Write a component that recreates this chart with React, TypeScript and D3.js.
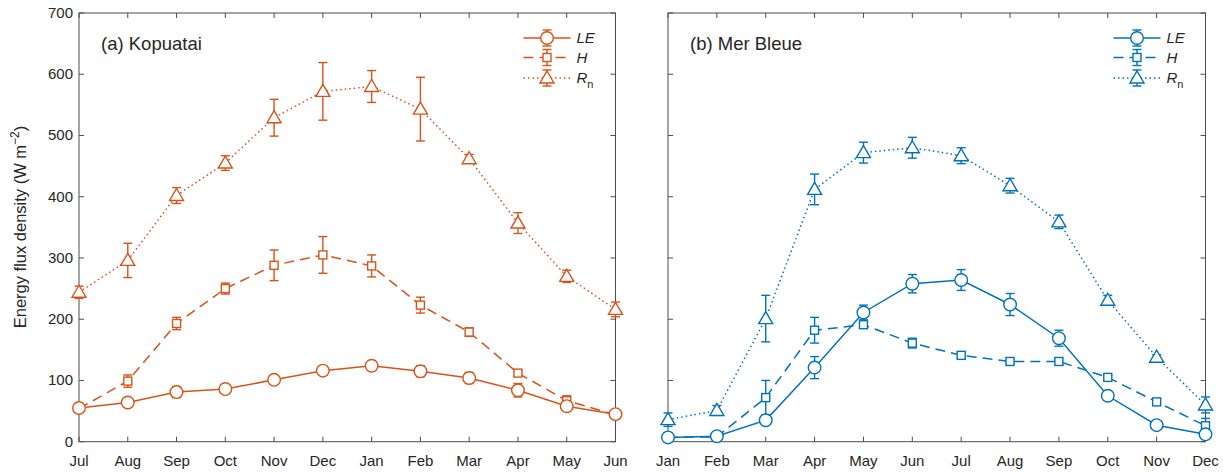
import * as d3 from 'd3';
import React from 'react';

const W = 1223;
const H = 472;

// Kopuatai (Jul..Jun)
const monthsA = ['Jul', 'Aug', 'Sep', 'Oct', 'Nov', 'Dec', 'Jan', 'Feb', 'Mar', 'Apr', 'May', 'Jun'];
const leA = [55, 64, 81, 86, 101, 116, 124, 115, 104, 84, 58, 45];
const leAErr = [5, 5, 9, 6, 6, 7, 5, 9, 9, 11, 7, 5];
const hA = [54, 99, 193, 250, 288, 305, 287, 223, 179, 112, 67, 44];
const hAErr = [5, 10, 10, 9, 25, 30, 18, 13, 7, 5, 8, 5];
const rnA = [244, 296, 402, 455, 529, 572, 580, 543, 462, 357, 270, 216];
const rnAErr = [10, 28, 13, 12, 30, 47, 26, 52, 7, 17, 10, 12];

// Mer Bleue (Jan..Dec)
const monthsB = ['Jan', 'Feb', 'Mar', 'Apr', 'May', 'Jun', 'Jul', 'Aug', 'Sep', 'Oct', 'Nov', 'Dec'];
const leB = [7, 9, 35, 121, 211, 258, 264, 224, 169, 75, 27, 12];
const leBErr = [3, 3, 5, 18, 12, 15, 17, 18, 13, 4, 3, 3];
const hB = [7, 8, 72, 182, 191, 161, 141, 131, 131, 105, 65, 26];
const hBErr = [3, 3, 28, 21, 5, 8, 5, 4, 5, 4, 3, 12];
const rnB = [36, 51, 201, 412, 472, 480, 467, 418, 359, 231, 138, 60];
const rnBErr = [11, 8, 38, 25, 17, 17, 13, 12, 11, 8, 4, 13];

const yTicks = [0, 100, 200, 300, 400, 500, 600, 700];

const ORANGE = '#D95319';
const BLUE = '#0072BD';
const AXIS = '#4d4d4d';
const TEXT = '#262626';
const FONT = '"Liberation Sans", Arial, Helvetica, sans-serif';

const y = d3.scaleLinear().domain([0, 700]).range([441.7, 13]);

type Kind = 'circle' | 'square' | 'triangle';

function Marker({ kind, cx, cy, color }: { kind: Kind; cx: number; cy: number; color: string }) {
  if (kind === 'circle') return <circle cx={cx} cy={cy} r={6.3} fill="white" stroke={color} strokeWidth={1.4} />;
  if (kind === 'square') return <rect x={cx - 4} y={cy - 4} width={8} height={8} fill="white" stroke={color} strokeWidth={1.4} />;
  const p = d3.path();
  p.moveTo(cx, cy - 7);
  p.lineTo(cx + 7, cy + 5);
  p.lineTo(cx - 7, cy + 5);
  p.closePath();
  return <path d={p.toString()} fill="white" stroke={color} strokeWidth={1.4} />;
}

function Series({ vals, errs, x, kind, color, dash }: { vals: number[]; errs: number[]; x: d3.ScaleLinear<number, number>; kind: Kind; color: string; dash?: string }) {
  const line = d3.line<number>().x((_, i) => x(i)).y((d) => y(d));
  return (
    <g>
      <path d={line(vals) || ''} fill="none" stroke={color} strokeWidth={1.5} strokeDasharray={dash} />
      {vals.map((v, i) => {
        const cx = x(i);
        const t = y(v + errs[i]);
        const b = y(v - errs[i]);
        return (
          <g key={i} stroke={color} strokeWidth={1.4}>
            <line x1={cx} x2={cx} y1={t} y2={b} />
            <line x1={cx - 4.5} x2={cx + 4.5} y1={t} y2={t} />
            <line x1={cx - 4.5} x2={cx + 4.5} y1={b} y2={b} />
          </g>
        );
      })}
      {vals.map((v, i) => (
        <Marker key={'m' + i} kind={kind} cx={x(i)} cy={y(v)} color={color} />
      ))}
    </g>
  );
}

function Legend({ x0, color }: { x0: number; color: string }) {
  const rows: { kind: Kind; dash?: string; label: React.ReactNode; cy: number }[] = [
    { kind: 'circle', label: <tspan fontStyle="italic">LE</tspan>, cy: 38 },
    { kind: 'square', dash: '10,6', label: <tspan fontStyle="italic">H</tspan>, cy: 57.5 },
    { kind: 'triangle', dash: '1.5,3', label: <><tspan fontStyle="italic">R</tspan><tspan fontSize={11} dy={5}>n</tspan></>, cy: 78 },
  ];
  return (
    <g>
      {rows.map((r, i) => (
        <g key={i}>
          <line x1={x0} x2={x0 + 47} y1={r.cy} y2={r.cy} stroke={color} strokeWidth={1.5} strokeDasharray={r.dash} />
          <g stroke={color} strokeWidth={1.4}>
            <line x1={x0 + 23.5} x2={x0 + 23.5} y1={r.cy - 8} y2={r.cy + 8} />
            <line x1={x0 + 19} x2={x0 + 28} y1={r.cy - 8} y2={r.cy - 8} />
            <line x1={x0 + 19} x2={x0 + 28} y1={r.cy + 8} y2={r.cy + 8} />
          </g>
          <Marker kind={r.kind} cx={x0 + 23.5} cy={r.cy} color={color} />
          <text x={x0 + 53} y={r.cy + 5} fontSize={15} fill={TEXT} fontFamily={FONT}>{r.label}</text>
        </g>
      ))}
    </g>
  );
}

function Panel({ x0, x1, months, title, color, le, leE, hv, hE, rn, rnE, showY }: any) {
  const x = d3.scaleLinear().domain([0, 11]).range([x0, x1]);
  const top = y(700);
  const bot = y(0);
  return (
    <g fontFamily={FONT}>
      <rect x={x0} y={top} width={x1 - x0} height={bot - top} fill="none" stroke={AXIS} strokeWidth={1} />
      {months.map((m: string, i: number) => (
        <g key={m}>
          <line x1={x(i)} x2={x(i)} y1={bot} y2={bot - 5} stroke={AXIS} />
          <line x1={x(i)} x2={x(i)} y1={top} y2={top + 5} stroke={AXIS} />
          <text x={x(i)} y={466} textAnchor="middle" fontSize={15} fill={TEXT}>{m}</text>
        </g>
      ))}
      {yTicks.map((t) => (
        <g key={t}>
          <line x1={x0} x2={x0 + 5} y1={y(t)} y2={y(t)} stroke={AXIS} />
          <line x1={x1} x2={x1 - 5} y1={y(t)} y2={y(t)} stroke={AXIS} />
          {showY && (
            <text x={x0 - 6} y={y(t) + 5} textAnchor="end" fontSize={15} fill={TEXT}>{t}</text>
          )}
        </g>
      ))}
      <text x={x0 + 22} y={50} fontSize={18.5} fill={TEXT}>{title}</text>
      <Series vals={rn} errs={rnE} x={x} kind="triangle" color={color} dash="1.5,3" />
      <Series vals={hv} errs={hE} x={x} kind="square" color={color} dash="10,6" />
      <Series vals={le} errs={leE} x={x} kind="circle" color={color} />
      <Legend x0={x1 - 92} color={color} />
    </g>
  );
}

export default function App() {
  return (
    <svg width={W} height={H} style={{ position: 'absolute', left: 0, top: 0, background: 'white' }}>
      <rect width={W} height={H} fill="white" />
      <Panel x0={79} x1={615.5} months={monthsA} title="(a) Kopuatai" color={ORANGE}
        le={leA} leE={leAErr} hv={hA} hE={hAErr} rn={rnA} rnE={rnAErr} showY />
      <Panel x0={668} x1={1205.5} months={monthsB} title="(b) Mer Bleue" color={BLUE}
        le={leB} leE={leBErr} hv={hB} hE={hBErr} rn={rnB} rnE={rnBErr} showY={false} />
      <text transform="translate(26,227) rotate(-90)" textAnchor="middle" fontSize={16.5} fill={TEXT} fontFamily={FONT}>
        Energy flux density (W m<tspan fontSize={12} dy={-7}>−2</tspan><tspan dy={7}>)</tspan>
      </text>
    </svg>
  );
}
